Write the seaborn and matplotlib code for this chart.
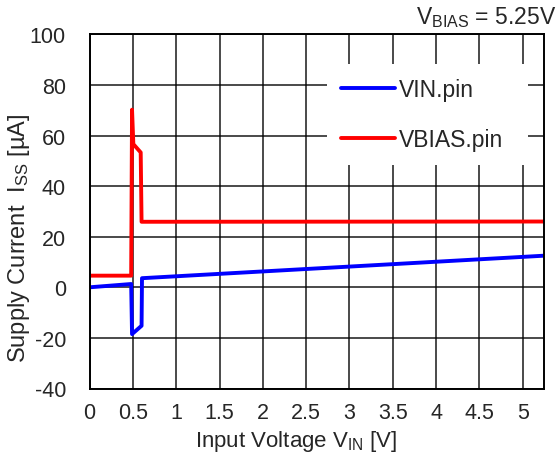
import matplotlib
matplotlib.use("Agg")
import matplotlib.pyplot as plt
import seaborn as sns
import pandas as pd

sns.set_style("white")
plt.rcParams['font.family'] = ['Liberation Sans', 'DejaVu Sans']
plt.rcParams['mathtext.fontset'] = 'custom'
plt.rcParams['mathtext.rm'] = 'Liberation Sans'
plt.rcParams['mathtext.it'] = 'Liberation Sans'
plt.rcParams['axes.unicode_minus'] = False

vin_x = [0.0, 0.48, 0.49, 0.60, 0.605, 5.25]
vin_y = [0.0, 1.3, -18.5, -15.2, 3.6, 12.5]
vbias_x = [0.0, 0.48, 0.49, 0.505, 0.59, 0.60, 5.25]
vbias_y = [4.6, 4.6, 70.2, 56.6, 53.3, 25.9, 26.0]
series_names = ["VIN.pin", "VBIAS.pin"]
x_ticks = [0, 0.5, 1, 1.5, 2, 2.5, 3, 3.5, 4, 4.5, 5]
x_tick_labels = ["0", "0.5", "1", "1.5", "2", "2.5", "3", "3.5", "4", "4.5", "5"]
y_ticks = [-40, -20, 0, 20, 40, 60, 80, 100]

df = pd.concat([
    pd.DataFrame({"x": vin_x, "y": vin_y, "series": series_names[0]}),
    pd.DataFrame({"x": vbias_x, "y": vbias_y, "series": series_names[1]}),
], ignore_index=True)

FS = 15.5
fig = plt.figure(figsize=(5.6, 4.64), dpi=100)
ax = fig.add_axes([89.6 / 560, 1 - 389.5 / 464, 454.7 / 560, 354.2 / 464])

sns.lineplot(data=df, x="x", y="y", hue="series", hue_order=series_names,
             palette={"VIN.pin": "#0000ff", "VBIAS.pin": "#ff0000"},
             estimator=None, sort=False, linewidth=2.8, ax=ax)

ax.set_xlim(0, 5.25)
ax.set_ylim(-40, 100)
ax.set_xticks(x_ticks)
ax.set_xticklabels(x_tick_labels)
ax.set_yticks(y_ticks)
ax.tick_params(axis="both", length=0, labelsize=FS)
ax.tick_params(axis="x", pad=10)
ax.tick_params(axis="y", pad=17)
ax.grid(True, color="black", linewidth=1.1, alpha=0.9)
for s in ax.spines.values():
    s.set_visible(True)
    s.set_color("black")
    s.set_linewidth(1.4)

ax.set_xlabel("Input Voltage V$_{\\mathrm{IN}}$ [V]", fontsize=16)
ax.xaxis.set_label_coords(0.454, -0.148)
ax.set_ylabel("Supply Current  I$_{\\mathrm{SS}}$ [µA]", fontsize=17)
ax.yaxis.set_label_coords(-0.155, 0.428)
ax.xaxis.label.set_va("center")
ax.yaxis.label.set_va("center")

fig.text(556 / 560, 1 - 18 / 464, "V$_{\\mathrm{BIAS}}$ = 5.25V", ha="right", va="center", fontsize=16.5)

leg = ax.legend(loc="upper left", bbox_to_anchor=(0.522, 0.646, 0.442, 0.27),
                mode="expand", borderaxespad=0,
                fontsize=16.5, frameon=True, fancybox=False, framealpha=1,
                edgecolor="white", handlelength=2.36, labelspacing=1.2,
                handletextpad=0.2, borderpad=0.6)
leg.get_frame().set_linewidth(0)
for line in leg.get_lines():
    line.set_linewidth(2.8)

fig.savefig("out.png", dpi=100)
